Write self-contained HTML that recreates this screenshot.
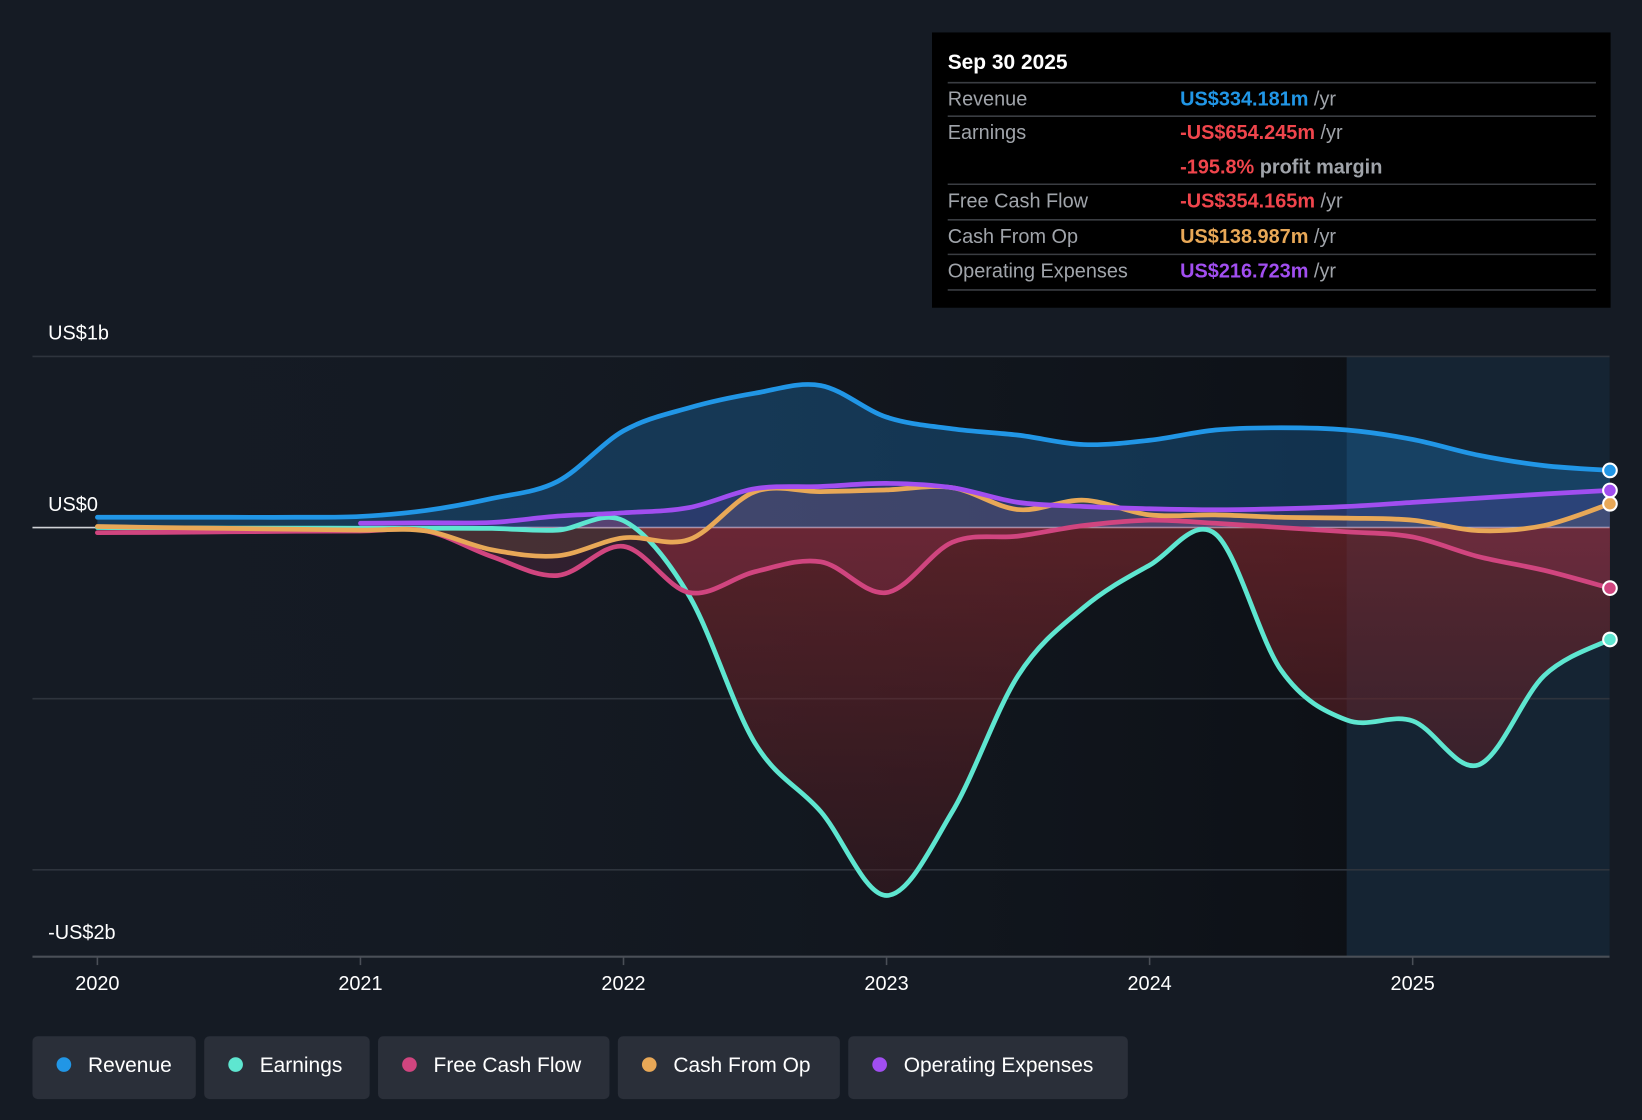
<!DOCTYPE html>
<html><head><meta charset="utf-8"><style>
html,body{margin:0;padding:0;background:#151b24;width:1642px;height:1120px;overflow:hidden}
svg{display:block;font-family:"Liberation Sans",sans-serif}
</style></head><body>
<svg id="chart" width="1642" height="1120" viewBox="0 0 1568 1070" preserveAspectRatio="none" xmlns="http://www.w3.org/2000/svg">
<defs>
<linearGradient id="past" x1="0" x2="1" y1="0" y2="0"><stop offset="0" stop-color="#151b24" stop-opacity="0"/><stop offset="1" stop-color="#0b0e13" stop-opacity="0.8"/></linearGradient>
<linearGradient id="redfill" x1="0" x2="0" y1="0" y2="1"><stop offset="0" stop-color="#8a2a30" stop-opacity="0.85"/><stop offset="1" stop-color="#4a1a1f" stop-opacity="0.6"/></linearGradient>
</defs>
<rect x="0" y="0" width="1568" height="1070" fill="#151b24"/>
<rect x="31" y="341" width="1255" height="573" fill="url(#past)"/>
<rect x="1286" y="341" width="251" height="573" fill="#17324a" opacity="0.4"/>
<g id="grid"></g>
<g id="areas"></g>
<g id="lines"></g>
<g id="axis"></g>
<g>
<rect x="890" y="31" width="648" height="263" fill="#000"/>
<text x="905" y="66" fill="#fff" font-size="20" font-weight="bold">Sep 30 2025</text>
<g stroke="#3a3d42" stroke-width="1.5"><line x1="905" x2="1524" y1="79" y2="79"/><line x1="905" x2="1524" y1="111" y2="111"/><line x1="905" x2="1524" y1="176" y2="176"/><line x1="905" x2="1524" y1="210" y2="210"/><line x1="905" x2="1524" y1="243" y2="243"/><line x1="905" x2="1524" y1="277" y2="277"/></g>
<g font-size="19" fill="#a0a4aa">
<text x="905" y="101">Revenue</text><text x="905" y="133">Earnings</text><text x="905" y="198">Free Cash Flow</text><text x="905" y="232">Cash From Op</text><text x="905" y="265">Operating Expenses</text>
</g>
<g font-size="19" font-weight="bold">
<text x="1127" y="101"><tspan fill="#2196e6">US$334.181m</tspan><tspan fill="#a0a4aa" font-weight="normal"> /yr</tspan></text>
<text x="1127" y="133"><tspan fill="#f0454c">-US$654.245m</tspan><tspan fill="#a0a4aa" font-weight="normal"> /yr</tspan></text>
<text x="1127" y="166"><tspan fill="#f0454c">-195.8%</tspan><tspan fill="#a0a4aa"> profit margin</tspan></text>
<text x="1127" y="198"><tspan fill="#f0454c">-US$354.165m</tspan><tspan fill="#a0a4aa" font-weight="normal"> /yr</tspan></text>
<text x="1127" y="232"><tspan fill="#e8a857">US$138.987m</tspan><tspan fill="#a0a4aa" font-weight="normal"> /yr</tspan></text>
<text x="1127" y="265"><tspan fill="#a14ef0">US$216.723m</tspan><tspan fill="#a0a4aa" font-weight="normal"> /yr</tspan></text>
</g>
</g>
<g id="legend"></g>
</svg>
<script>
const NS="http://www.w3.org/2000/svg";
const times=[2020,2020.25,2020.5,2020.75,2021,2021.25,2021.5,2021.75,2022,2022.25,2022.5,2022.75,2023,2023.25,2023.5,2023.75,2024,2024.25,2024.5,2024.75,2025,2025.25,2025.5,2025.75];
const revenue=[60,60,60,60,65,100,170,270,565,700,785,830,645,577,540,485,510,570,583,570,515,423,362,334];
const earnings=[0,-2,-3,-3,-4,-4,-5,-15,40,-400,-1260,-1660,-2150,-1660,-865,-466,-220,-37,-834,-1125,-1130,-1387,-865,-654];
const fcf=[-30,-28,-25,-22,-20,-20,-170,-280,-110,-380,-258,-200,-380,-86,-50,12,43,25,0,-25,-55,-170,-250,-354];
const cfo=[6,0,-5,-10,-15,-20,-130,-165,-60,-70,210,210,220,233,105,160,74,74,60,55,43,-18,12,139];
const opexTimes=times.slice(4);
const opex=[25,28,30,67,86,117,227,240,258,233,147,123,110,104,110,123,147,172,196,217];
const yTicks=[1000,0,-1000,-2000];
const yLabels=["US$1b","US$0","",""];
const xYears=[2020,2021,2022,2023,2024,2025];
const X=t=>93+(t-2020)*251.2;
const Y=v=>504-v*0.1635;
function el(tag,attrs,parent){const e=document.createElementNS(NS,tag);for(const k in attrs)e.setAttribute(k,attrs[k]);parent.appendChild(e);return e;}
function pathD(ts,vs){const p=ts.map((t,i)=>[X(t),Y(vs[i])]);let d=`M${p[0][0]},${p[0][1]}`;
for(let i=0;i<p.length-1;i++){const p0=p[i-1]||p[i],p1=p[i],p2=p[i+1],p3=p[i+2]||p2;
const c1=[p1[0]+(p2[0]-p0[0])/6,p1[1]+(p2[1]-p0[1])/6],c2=[p2[0]-(p3[0]-p1[0])/6,p2[1]-(p3[1]-p1[1])/6];
d+=` C${c1[0]},${c1[1]} ${c2[0]},${c2[1]} ${p2[0]},${p2[1]}`;}return d;}
const grid=document.getElementById('grid');
yTicks.forEach((v,i)=>{const l=el('line',{x1:31,x2:1537,y1:Y(v),y2:Y(v),stroke:v===0?'#cfd2d6':'#2e343d','stroke-width':1.5},grid);


if(yLabels[i]){const t=el('text',{x:46,y:Y(v)-16,fill:'#fff','font-size':19},grid);t.textContent=yLabels[i];

}});
const bl=el('text',{x:46,y:897,fill:'#fff','font-size':19},grid);bl.textContent='-US$2b';


const axis=document.getElementById('axis');
el('line',{x1:31,x2:1537,y1:914,y2:914,stroke:'#4a4f57','stroke-width':2},axis);
xYears.forEach(yr=>{el('line',{x1:X(yr),x2:X(yr),y1:914,y2:922,stroke:'#4a4f57','stroke-width':1.5},axis);
const t=el('text',{x:X(yr),y:946,fill:'#fff','font-size':19,'text-anchor':'middle'},axis);t.textContent=yr;

});
const series=[
{name:'revenue',ts:times,vs:revenue,color:'#2196e6',fill:'rgba(33,150,243,0.25)'},
{name:'opex',ts:opexTimes,vs:opex,color:'#a14ef0',fill:'rgba(161,78,240,0.15)'},
{name:'cfo',ts:times,vs:cfo,color:'#e8a857',fill:'rgba(232,168,87,0.12)'},
{name:'fcf',ts:times,vs:fcf,color:'#d0457f',fill:'rgba(208,69,127,0.15)'},
{name:'earnings',ts:times,vs:earnings,color:'#5ee6d0',fill:'url(#redfill)'}];
const areas=document.getElementById('areas'),lines=document.getElementById('lines');
[series[4],series[0],series[3],series[2],series[1]].forEach(s=>{
const d=pathD(s.ts,s.vs)+` L${X(s.ts[s.ts.length-1])},${Y(0)} L${X(s.ts[0])},${Y(0)} Z`;
const a=el('path',{d:d,fill:s.fill,opacity:s.name==='earnings'?0.7:1},areas);

});
series.slice().reverse().forEach(s=>{
const l=el('path',{d:pathD(s.ts,s.vs),fill:'none',stroke:s.color,'stroke-width':4.5,'stroke-linecap':'round'},lines);


const n=s.ts.length-1;
const c=el('circle',{cx:X(s.ts[n]),cy:Y(s.vs[n]),r:6.5,fill:s.color,stroke:'#fff','stroke-width':2},lines);

});
const legend=document.getElementById('legend');
[['Revenue','#2196e6',31,156],['Earnings','#5ee6d0',195,158],['Free Cash Flow','#d0457f',361,221],['Cash From Op','#e8a857',590,212],['Operating Expenses','#a14ef0',810,267]].forEach(([lab,col,x,w])=>{
const g=el('g',{},legend);


el('rect',{x:x,y:990,width:w,height:60,rx:5,fill:'#2a2f39'},g);
el('circle',{cx:x+30,cy:1017,r:7,fill:col},g);
const t=el('text',{x:x+53,y:1024,fill:'#fff','font-size':20},g);t.textContent=lab;});
</script>
</body></html>
